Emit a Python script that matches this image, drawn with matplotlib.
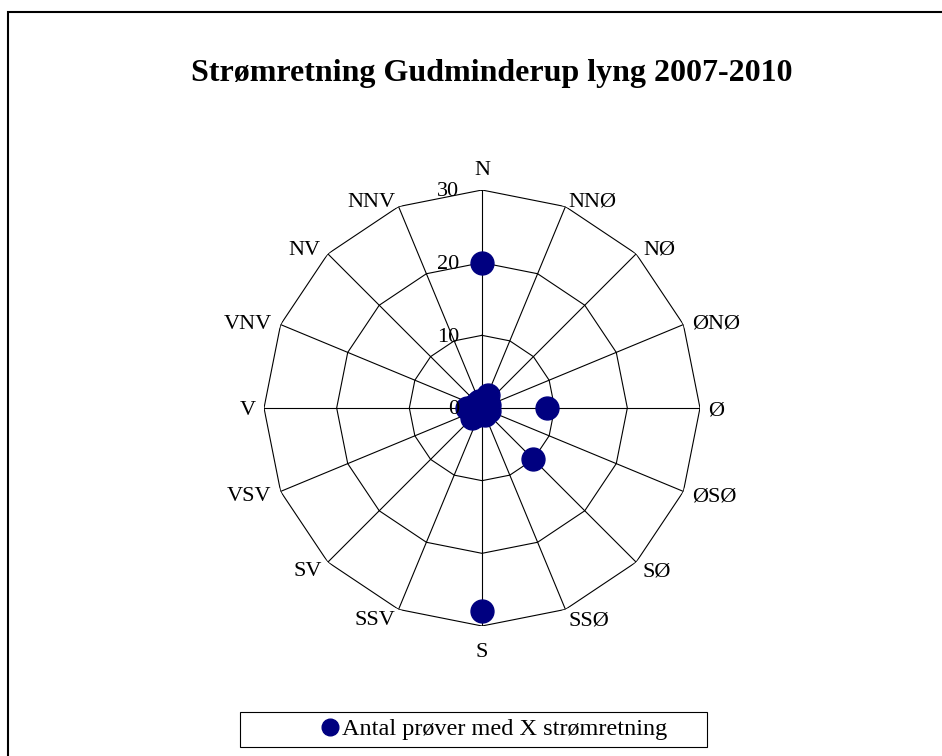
import numpy as np
import matplotlib.pyplot as plt
from matplotlib.patches import Rectangle
from matplotlib.lines import Line2D

plt.rcParams['font.family'] = ['Liberation Serif', 'DejaVu Serif']

directions = ["N", "NNØ", "NØ", "ØNØ", "Ø", "ØSØ", "SØ", "SSØ",
              "S", "SSV", "SV", "VSV", "V", "VNV", "NV", "NNV"]
counts = [20, 2, 1, 1, 9, 1, 10, 1, 28, 1, 2, 1, 2, 1, 1, 1]
rings = [0, 10, 20, 30]
ring_labels = ["0", "10", "20", "30"]

# label offsets from the outer vertex (pixels, y up), mirrored on west side
east_dx = [0, 3, 7, 9, 8, 9, 6, 3, 0]
east_dy = [15, 0, -1, -4, -7, -10, -14, -16, -31]

fig = plt.figure(figsize=(9.42, 7.56), dpi=100)
fig.patches.append(Rectangle((8 / 942, -0.1), 1.2, 1 - 12 / 756 + 0.1,
                             transform=fig.transFigure, fill=False,
                             edgecolor="black", linewidth=1.5))

fig.text(492 / 942, 1 - 73 / 756, "Strømretning Gudminderup lyng 2007-2010",
         ha="center", va="center", fontsize=23, fontweight="bold")

ax = fig.add_axes([264 / 942, (756 - 408 - 218) / 756, 436 / 942, 436 / 756],
                  projection="polar")
ax.set_theta_zero_location("N")
ax.set_theta_direction(-1)
ax.set_ylim(0, 30)
ax.grid(False)
ax.spines["polar"].set_visible(False)
ax.set_yticks([])
ax.set_xticks([])

theta = np.deg2rad(np.arange(len(directions)) * 22.5)
closed = np.append(theta, theta[0])
for r in rings[1:]:
    ax.plot(closed, [r] * len(closed), color="black", lw=0.8, zorder=1)
for t in theta:
    ax.plot([t, t], [0, 30], color="black", lw=0.8, zorder=1)

for i, (t, lab) in enumerate(zip(theta, directions)):
    j = i if i <= 8 else 16 - i
    dx = east_dx[j] if i <= 8 else -east_dx[j]
    ha = "center" if i in (0, 8) else ("left" if i < 8 else "right")
    ax.annotate(lab, xy=(t, 30), xytext=(dx, east_dy[j]),
                textcoords="offset pixels", ha=ha, va="baseline",
                fontsize=16, annotation_clip=False)

ax.plot(theta, counts, linestyle="none", marker="o", markersize=16.5,
        color="#000080", zorder=3)

for r, lab in zip(rings, ring_labels):
    ax.annotate(lab, xy=(0, r), xytext=(-23, -2), textcoords="offset pixels",
                ha="right", va="center", fontsize=16, zorder=4)

fig.patches.append(Rectangle((240 / 942, 1 - 747 / 756), 467 / 942, 35 / 756,
                             transform=fig.transFigure, fill=False,
                             edgecolor="black", linewidth=0.8))
handle = Line2D([], [], linestyle="none", marker="o", markersize=12,
                color="#000080")
fig.legend([handle], ["Antal prøver med X strømretning"],
           loc="center", bbox_to_anchor=(493 / 942, 1 - 729 / 756),
           fontsize=17.5, frameon=False,
           handletextpad=0.05, borderpad=0.0, handlelength=0.9)

fig.savefig("out.png", dpi=100)
